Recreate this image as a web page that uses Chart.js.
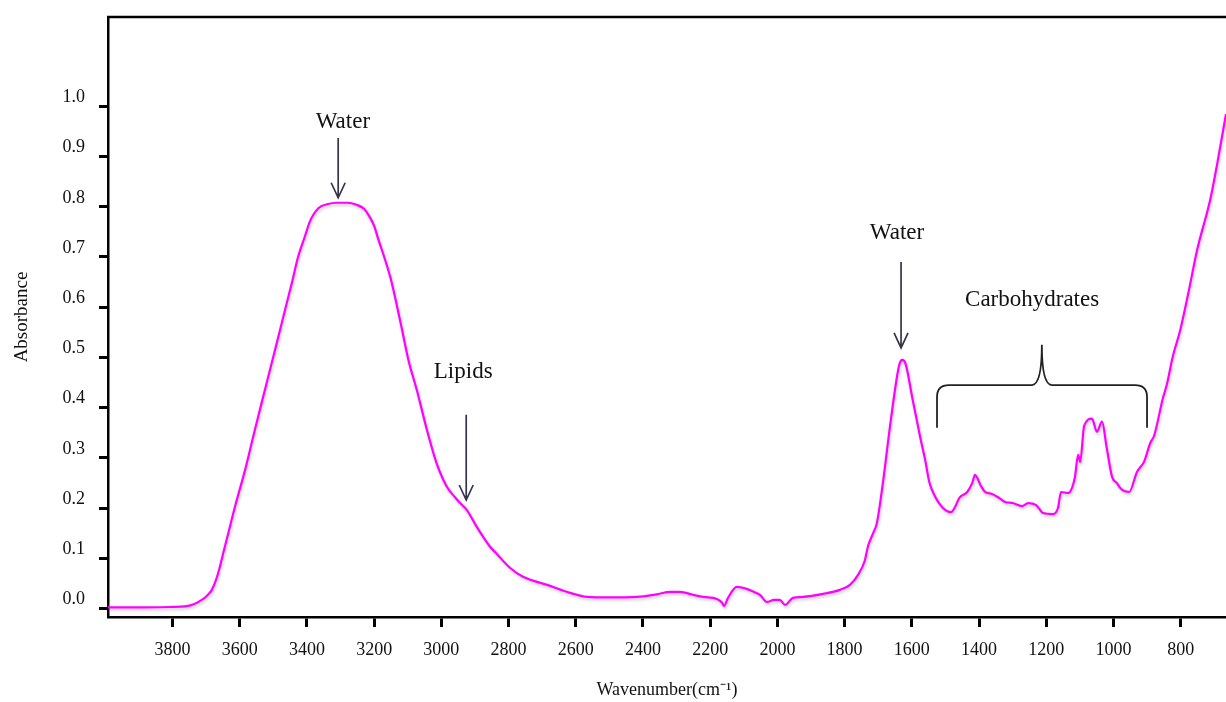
<!DOCTYPE html>
<html>
<head>
<meta charset="utf-8">
<title>FTIR spectrum</title>
<script src="https://cdn.jsdelivr.net/npm/chart.js@4"></script>
<style>
  body { margin: 0; background: #ffffff; }
  #wrap { width: 1226px; height: 702px; }
</style>
</head>
<body>
<div id="wrap"><canvas id="myChart" width="1226" height="702"></canvas></div>
<script>
  // spectrum (wavenumber cm-1, absorbance)
  let wavenumbers = [3992, 3900, 3800, 3763, 3735, 3713, 3695, 3683, 3670, 3659, 3647, 3634, 3614, 3584, 3560, 3535, 3515, 3490, 3465, 3445, 3426, 3406, 3391, 3366, 3340, 3311, 3280, 3252, 3230, 3217, 3200, 3187, 3170, 3150, 3121, 3098, 3073, 3043, 3014, 2984, 2960, 2944, 2924, 2895, 2876, 2855, 2834, 2796, 2757, 2685, 2617, 2566, 2500, 2418, 2360, 2319, 2290, 2250, 2221, 2180, 2165, 2159, 2147, 2121, 2091, 2070, 2052, 2031, 2010, 1993, 1977, 1954, 1924, 1864, 1814, 1784, 1760, 1740, 1730, 1715, 1704, 1686, 1665, 1644, 1636, 1629, 1620, 1614, 1599, 1575, 1560, 1548, 1530, 1519, 1500, 1483, 1470, 1459, 1435, 1420, 1412, 1395, 1382, 1361, 1340, 1322, 1300, 1272, 1254, 1230, 1209, 1180, 1165, 1156, 1135, 1115, 1105, 1099, 1087, 1064, 1049, 1034, 1020, 1004, 990, 977, 953, 930, 909, 890, 879, 853, 840, 824, 801, 775, 751, 712, 690, 665];
  let absorbance = [0.002, 0.002, 0.003, 0.004, 0.009, 0.017, 0.027, 0.037, 0.058, 0.083, 0.116, 0.150, 0.203, 0.276, 0.342, 0.409, 0.462, 0.528, 0.595, 0.648, 0.701, 0.741, 0.771, 0.797, 0.805, 0.808, 0.808, 0.804, 0.796, 0.784, 0.762, 0.734, 0.700, 0.655, 0.568, 0.495, 0.435, 0.356, 0.289, 0.243, 0.222, 0.210, 0.196, 0.163, 0.143, 0.123, 0.108, 0.081, 0.063, 0.047, 0.031, 0.023, 0.022, 0.023, 0.028, 0.033, 0.033, 0.027, 0.023, 0.019, 0.012, 0.005, 0.021, 0.043, 0.039, 0.033, 0.027, 0.013, 0.017, 0.017, 0.007, 0.021, 0.023, 0.029, 0.037, 0.047, 0.067, 0.095, 0.125, 0.150, 0.170, 0.250, 0.362, 0.462, 0.488, 0.495, 0.490, 0.475, 0.421, 0.341, 0.295, 0.252, 0.222, 0.210, 0.196, 0.192, 0.204, 0.220, 0.232, 0.250, 0.266, 0.245, 0.232, 0.228, 0.220, 0.212, 0.210, 0.204, 0.210, 0.206, 0.190, 0.188, 0.200, 0.232, 0.230, 0.260, 0.306, 0.292, 0.364, 0.378, 0.352, 0.372, 0.320, 0.262, 0.250, 0.238, 0.232, 0.272, 0.292, 0.330, 0.344, 0.418, 0.449, 0.500, 0.555, 0.635, 0.714, 0.814, 0.890, 0.985];

  let xTickValues = [3800, 3600, 3400, 3200, 3000, 2800, 2600, 2400, 2200, 2000, 1800, 1600, 1400, 1200, 1000, 800];
  let yTickValues = [0, 0.1, 0.2, 0.3, 0.4, 0.5, 0.6, 0.7, 0.8, 0.9, 1.0];

  // arrows: label, x, label y, arrow top y, arrow tip y (data units)
  let arrowLabels = ['Water', 'Lipids', 'Water'];
  let arrowX = [3307, 2926, 1632];
  let arrowTextX = [3293, 2935, 1644];
  let arrowTextY = [0.969, 0.471, 0.748];
  let arrowTop = [0.937, 0.386, 0.690];
  let arrowTip = [0.818, 0.216, 0.519];

  // carbohydrate bracket: left, middle, right wavenumber; bar, ends, peak absorbance
  let bracketX = [1525, 1213, 900];
  let bracketY = [0.445, 0.360, 0.525];
  let bracketLabel = 'Carbohydrates';
  let bracketLabelAt = [1242, 0.615];

  let serif = '"Liberation Serif", "Times New Roman", serif';

  let points = wavenumbers.map((w, i) => ({ x: w, y: absorbance[i] }));

  const lineShadow = {
      id: 'lineShadow',
      beforeDatasetDraw(chart) {
          let c = chart.ctx;
          c.save();
          c.shadowColor = 'rgba(0, 0, 0, 0.22)';
          c.shadowBlur = 3;
          c.shadowOffsetX = 1;
          c.shadowOffsetY = 2;
      },
      afterDatasetDraw(chart) {
          chart.ctx.restore();
      }
  };

  const notes = {
      id: 'notes',
      afterDatasetsDraw(chart) {
          let c = chart.ctx;
          let xs = chart.scales.x;
          let ys = chart.scales.y;
          let area = chart.chartArea;

          // top frame line
          c.save();
          c.strokeStyle = '#000000';
          c.lineWidth = 2.5;
          c.beginPath();
          c.moveTo(area.left - 1, area.top);
          c.lineTo(area.right + 2, area.top);
          c.stroke();

          c.font = '23px ' + serif;
          c.fillStyle = '#111111';
          c.textAlign = 'center';
          c.textBaseline = 'middle';

          for (let i = 0; i < arrowLabels.length; i++) {
              let px = xs.getPixelForValue(arrowX[i]);
              let top = ys.getPixelForValue(arrowTop[i]);
              let tip = ys.getPixelForValue(arrowTip[i]);
              c.fillText(arrowLabels[i], xs.getPixelForValue(arrowTextX[i]), ys.getPixelForValue(arrowTextY[i]));

              c.strokeStyle = '#35354a';
              c.lineWidth = 1.7;
              c.beginPath();
              c.moveTo(px, top);
              c.lineTo(px, tip);
              c.moveTo(px - 7, tip - 15);
              c.lineTo(px, tip);
              c.lineTo(px + 7, tip - 15);
              c.stroke();
          }

          let bl = xs.getPixelForValue(bracketX[0]);
          let bm = xs.getPixelForValue(bracketX[1]);
          let br = xs.getPixelForValue(bracketX[2]);
          let bar = ys.getPixelForValue(bracketY[0]);
          let ends = ys.getPixelForValue(bracketY[1]);
          let peak = ys.getPixelForValue(bracketY[2]);

          c.strokeStyle = '#222222';
          c.lineWidth = 1.8;
          c.beginPath();
          c.moveTo(bl, ends);
          c.lineTo(bl, bar + 12);
          c.quadraticCurveTo(bl, bar, bl + 12, bar);
          c.lineTo(bm - 10, bar);
          c.quadraticCurveTo(bm, bar, bm, peak);
          c.quadraticCurveTo(bm, bar, bm + 10, bar);
          c.lineTo(br - 12, bar);
          c.quadraticCurveTo(br, bar, br, bar + 12);
          c.lineTo(br, ends);
          c.stroke();

          c.fillText(bracketLabel, xs.getPixelForValue(bracketLabelAt[0]), ys.getPixelForValue(bracketLabelAt[1]));
          c.restore();
      }
  };

  let ctx = document.getElementById('myChart').getContext('2d');

  let myChart = new Chart(ctx, {
      type: 'line',
      data: {
          datasets: [{
              label: 'Absorbance',
              data: points,
              borderColor: '#ff00ff',
              backgroundColor: 'rgba(0, 0, 0, 0)',
              borderWidth: 2.2,
              pointRadius: 0,
              cubicInterpolationMode: 'monotone',
              fill: false
          }]
      },
      options: {
          responsive: false,
          animation: false,
          devicePixelRatio: 1,
          layout: {
              padding: { top: 17, right: 0, bottom: 0, left: 0 }
          },
          plugins: {
              legend: { display: false },
              tooltip: { enabled: false }
          },
          scales: {
              x: {
                  type: 'linear',
                  reverse: true,
                  min: 665,
                  max: 3992,
                  afterBuildTicks: function (scale) {
                      scale.ticks = xTickValues.map(v => ({ value: v }));
                  },
                  afterFit: function (scale) {
                      scale.height = 85;
                      scale.paddingLeft = 0;
                      scale.paddingRight = 0;
                  },
                  grid: {
                      drawOnChartArea: false,
                      drawTicks: true,
                      tickLength: 10,
                      tickWidth: 3,
                      tickColor: '#000000'
                  },
                  border: {
                      display: true,
                      color: '#000000',
                      width: 2.5
                  },
                  ticks: {
                      color: '#111111',
                      padding: 12,
                      maxRotation: 0,
                      autoSkip: false,
                      font: { family: serif, size: 18 },
                      callback: function (value) {
                          return String(value);
                      }
                  },
                  title: {
                      display: true,
                      text: 'Wavenumber(cm\u207B\u00B9)',
                      color: '#111111',
                      padding: { top: 0, bottom: 1 },
                      font: { family: serif, size: 18 }
                  }
              },
              y: {
                  min: -0.017,
                  max: 1.178,
                  afterBuildTicks: function (scale) {
                      scale.ticks = yTickValues.map(v => ({ value: v }));
                  },
                  afterFit: function (scale) {
                      scale.width = 108;
                      scale.paddingTop = 0;
                      scale.paddingBottom = 0;
                  },
                  grid: {
                      drawOnChartArea: false,
                      drawTicks: true,
                      tickLength: 9,
                      tickWidth: 3,
                      tickColor: '#000000'
                  },
                  border: {
                      display: true,
                      color: '#000000',
                      width: 2.5
                  },
                  ticks: {
                      color: '#111111',
                      padding: 14,
                      labelOffset: -9,
                      autoSkip: false,
                      font: { family: serif, size: 18 },
                      callback: function (value) {
                          return Number(value).toFixed(1);
                      }
                  },
                  title: {
                      display: true,
                      text: 'Absorbance',
                      color: '#111111',
                      padding: { top: 11, bottom: 0 },
                      font: { family: serif, size: 19 }
                  }
              }
          }
      },
      plugins: [lineShadow, notes]
  });
</script>
</body>
</html>
